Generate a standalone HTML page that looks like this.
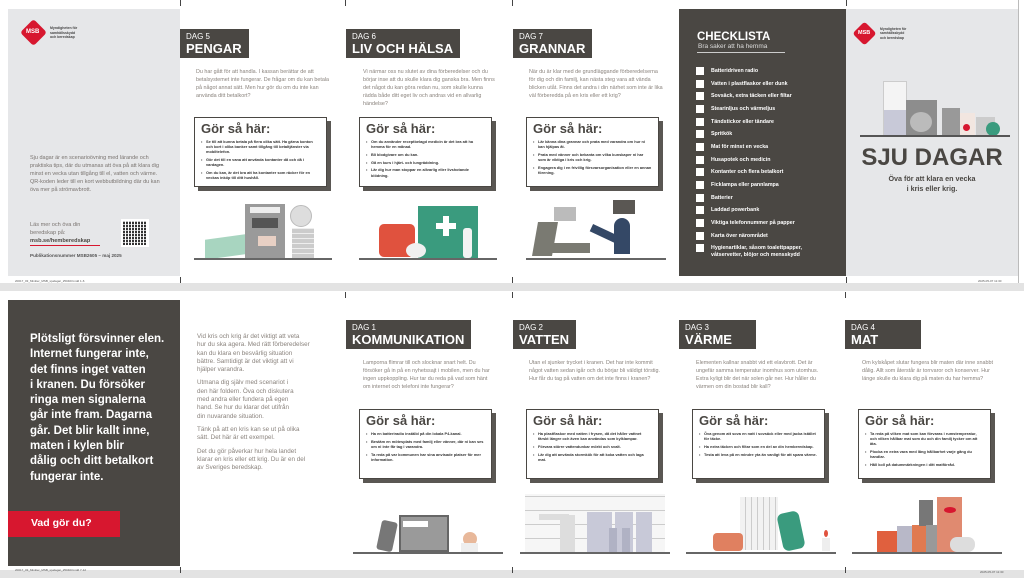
<!DOCTYPE html>
<html><head><meta charset="utf-8">
<style>
*{margin:0;padding:0;box-sizing:border-box}
body{width:1024px;height:578px;background:#fff;position:relative;overflow:hidden;font-family:"Liberation Sans",sans-serif}
.a{position:absolute}
.hd{position:absolute;background:#4a4743;color:#fff;padding:3px 7px 0 6px;height:29px;white-space:nowrap}
.hd .d{font-size:8px;line-height:9px;font-weight:normal}
.hd .t{font-size:13px;line-height:16px;font-weight:bold;white-space:nowrap}
.intro{position:absolute;color:#8a837d;font-size:5.4px;line-height:8px;width:138px}
.box{position:absolute;width:133px;height:70px;border:1.5px solid #4a4743;background:#fff;box-shadow:4px 4px 0 #5a5753;padding:4px 6px}
.box h3{font-size:13px;line-height:14px;color:#4a4743;margin-bottom:3px}
.box li{font-size:3.9px;line-height:5.2px;font-weight:bold;color:#333;list-style:none;margin-bottom:2.5px;padding-left:5px;position:relative}
.box li:before{content:"•";position:absolute;left:0}
.base{position:absolute;height:1.5px;background:#666}
.tick{position:absolute;width:1px;height:6px;background:#444}
.ck{position:absolute;left:696px;width:8px;height:8px;background:#fff}
.ct{position:absolute;left:711px;color:#fff;font-size:5.3px;font-weight:bold;line-height:6.5px;width:125px}
</style></head><body>
<div class="a" style="left:0;top:283px;width:1024px;height:8px;background:#e3e3e3"></div>
<div class="a" style="left:0;top:570px;width:1024px;height:8px;background:#e3e3e3"></div>
<div class="a" style="left:1018px;top:0;width:1px;height:283px;background:#bbb"></div>

<!-- ===== TOP ROW ===== -->
<div class="a" style="left:8px;top:9px;width:172px;height:267px;background:#e6e7e9"></div>
<div class="a" style="left:24px;top:23px;width:19px;height:19px;background:#d7172f;transform:rotate(45deg);border-radius:3px"></div>
<div class="a" style="left:26px;top:29px;color:#fff;font-size:6px;font-weight:bold">MSB</div>
<div class="a" style="left:50px;top:26px;font-size:3.5px;line-height:4.5px;color:#444;font-weight:bold">Myndigheten för<br>samhällsskydd<br>och beredskap</div>
<div class="a" style="left:30px;top:154px;width:135px;font-size:5.5px;line-height:8.1px;color:#7a7470">Sju dagar är en scenarioövning med lärande och praktiska tips, där du utmanas att öva på att klara dig minst en vecka utan tillgång till el, vatten och värme. QR-koden leder till en kort webbutbildning där du kan öva mer på strömavbrott.</div>
<div class="a" style="left:30px;top:221px;width:80px;font-size:5.6px;line-height:8px;color:#7a7470">Läs mer och öva din<br>beredskap på:<br><b style="color:#4a4743">msb.se/hemberedskap</b></div>
<div class="a" style="left:30px;top:245px;width:70px;height:1px;background:#d7172f"></div>
<div class="a" style="left:123px;top:221px;width:24px;height:24px;background:repeating-linear-gradient(90deg,#333 0 2px,#fff 2px 3px),#333;outline:2px solid #fff"></div>
<div class="a" style="left:123px;top:221px;width:24px;height:24px;background:repeating-linear-gradient(0deg,transparent 0 2px,rgba(255,255,255,.7) 2px 3px)"></div>
<div class="a" style="left:30px;top:253px;font-size:4.6px;font-weight:bold;color:#555">Publikationsnummer MSB2605 – maj 2025</div>
<div class="a" style="left:15px;top:279px;font-size:3px;color:#555">20017_03_Miniiter_MSB_sjudagar_250403.indd 1-6</div>

<!-- DAG 5 -->
<div class="hd" style="left:180px;top:29px"><div class="d">DAG 5</div><div class="t">PENGAR</div></div>
<div class="intro" style="left:196px;top:68px">Du har gått för att handla. I kassan berättar de att betalsystemet inte fungerar. De frågar om du kan betala på något annat sätt. Men hur gör du om du inte kan använda ditt betalkort?</div>
<div class="box" style="left:194px;top:117px"><h3>Gör så här:</h3><ul><li>Se till att kunna betala på flera olika sätt. Ha gärna konton och kort i olika banker samt tillgång till betaltjänster via mobiltelefon.</li><li>Gör det till en vana att använda kontanter då och då i vardagen.</li><li>Om du kan, är det bra att ha kontanter som räcker för en veckas inköp till ditt hushåll.</li></ul></div>
<div class="a" style="left:205px;top:237px;width:40px;height:20px;background:#a8d5c0;transform:skewY(-8deg)"></div>
<div class="a" style="left:245px;top:204px;width:40px;height:54px;background:#9a9a9a"></div>
<div class="a" style="left:250px;top:207px;width:30px;height:6px;background:#eee"></div>
<div class="a" style="left:252px;top:218px;width:26px;height:10px;background:#555"></div>
<div class="a" style="left:258px;top:236px;width:18px;height:10px;background:#e8d0c4"></div>
<div class="a" style="left:290px;top:205px;width:22px;height:22px;border-radius:50%;background:#ddd;border:1px solid #bbb"></div>
<div class="a" style="left:292px;top:228px;width:22px;height:30px;background:repeating-linear-gradient(0deg,#ccc 0 4px,#eee 4px 5px)"></div>
<div class="base" style="left:194px;top:258px;width:138px"></div>

<!-- DAG 6 -->
<div class="hd" style="left:346px;top:29px"><div class="d">DAG 6</div><div class="t">LIV OCH HÄLSA</div></div>
<div class="intro" style="left:363px;top:68px;width:132px">Vi närmar oss nu slutet av dina förberedelser och du börjar inse att du skulle klara dig ganska bra. Men finns det något du kan göra redan nu, som skulle kunna rädda både ditt eget liv och andras vid en allvarlig händelse?</div>
<div class="box" style="left:359px;top:117px"><h3>Gör så här:</h3><ul><li>Om du använder receptbelagd medicin är det bra att ha hemma för en månad.</li><li>Bli blodgivare om du kan.</li><li>Gå en kurs i hjärt- och lungräddning.</li><li>Lär dig hur man stoppar en allvarlig eller livshotande blödning.</li></ul></div>
<div class="a" style="left:379px;top:224px;width:36px;height:33px;background:#e0523e;border-radius:5px"></div>
<div class="a" style="left:418px;top:206px;width:60px;height:52px;background:#3a9b7e"></div>
<div class="a" style="left:436px;top:216px;width:20px;height:20px;background:linear-gradient(#fff,#fff) center/6px 20px no-repeat,linear-gradient(#fff,#fff) center/20px 6px no-repeat"></div>
<div class="a" style="left:406px;top:243px;width:20px;height:15px;background:#f0f0f0;border-radius:50%"></div>
<div class="a" style="left:463px;top:228px;width:9px;height:30px;background:#f3f3f3;border-radius:3px"></div>
<div class="base" style="left:359px;top:258px;width:138px"></div>

<!-- DAG 7 -->
<div class="hd" style="left:513px;top:29px"><div class="d">DAG 7</div><div class="t">GRANNAR</div></div>
<div class="intro" style="left:529px;top:68px;width:135px">När du är klar med de grundläggande förberedelserna för dig och din familj, kan nästa steg vara att vända blicken utåt. Finns det andra i din närhet som inte är lika väl förberedda på en kris eller ett krig?</div>
<div class="box" style="left:526px;top:117px"><h3>Gör så här:</h3><ul><li>Lär känna dina grannar och prata med varandra om hur ni kan hjälpas åt.</li><li>Prata med vänner och bekanta om vilka kunskaper ni har som är viktiga i kris och krig.</li><li>Engagera dig i en frivillig försvarsorganisation eller en annan förening.</li></ul></div>
<div class="a" style="left:554px;top:207px;width:22px;height:14px;background:#bbb"></div>
<div class="a" style="left:613px;top:200px;width:22px;height:14px;background:#5a5753"></div>
<div class="a" style="left:535px;top:222px;width:20px;height:34px;background:#7a7a72;transform:skewX(-10deg)"></div>
<div class="a" style="left:550px;top:243px;width:40px;height:10px;background:#7a7a72"></div>
<div class="a" style="left:614px;top:218px;width:16px;height:36px;background:#344866;border-radius:8px 8px 0 0"></div>
<div class="a" style="left:590px;top:230px;width:30px;height:8px;background:#344866;transform:rotate(25deg)"></div>
<div class="base" style="left:526px;top:258px;width:140px"></div>

<!-- Checklist -->
<div class="a" style="left:679px;top:9px;width:167px;height:267px;background:#4a4743"></div>
<div class="a" style="left:697px;top:31px;color:#fff;font-size:11.5px;font-weight:bold">CHECKLISTA</div>
<div class="a" style="left:698px;top:43px;color:#ddd;font-size:6.5px">Bra saker att ha hemma</div>
<div class="a" style="left:697px;top:52px;width:88px;height:1px;background:#ccc"></div>
<div class="ck" style="top:67px"></div><div class="ct" style="top:68px">Batteridriven radio</div>
<div class="ck" style="top:79.5px"></div><div class="ct" style="top:80.5px">Vatten i plastflaskor eller dunk</div>
<div class="ck" style="top:92px"></div><div class="ct" style="top:93px">Sovsäck, extra täcken eller filtar</div>
<div class="ck" style="top:105px"></div><div class="ct" style="top:106px">Stearinljus och värmeljus</div>
<div class="ck" style="top:117.5px"></div><div class="ct" style="top:118.5px">Tändstickor eller tändare</div>
<div class="ck" style="top:130px"></div><div class="ct" style="top:131px">Spritkök</div>
<div class="ck" style="top:142.5px"></div><div class="ct" style="top:143.5px">Mat för minst en vecka</div>
<div class="ck" style="top:155.5px"></div><div class="ct" style="top:156.5px">Husapotek och medicin</div>
<div class="ck" style="top:168px"></div><div class="ct" style="top:169px">Kontanter och flera betalkort</div>
<div class="ck" style="top:181px"></div><div class="ct" style="top:182px">Ficklampa eller pannlampa</div>
<div class="ck" style="top:193.5px"></div><div class="ct" style="top:194.5px">Batterier</div>
<div class="ck" style="top:206px"></div><div class="ct" style="top:207px">Laddad powerbank</div>
<div class="ck" style="top:219px"></div><div class="ct" style="top:220px">Viktiga telefonnummer på papper</div>
<div class="ck" style="top:231.5px"></div><div class="ct" style="top:232.5px">Karta över närområdet</div>
<div class="ck" style="top:244px"></div><div class="ct" style="top:245px">Hygienartiklar, såsom toalettpapper,<br>våtservetter, blöjor och mensskydd</div>

<!-- Right gray cover -->
<div class="a" style="left:846px;top:9px;width:172px;height:267px;background:#e6e7e9"></div>
<div class="a" style="left:856px;top:25px;width:17px;height:17px;background:#d7172f;transform:rotate(45deg);border-radius:3px"></div>
<div class="a" style="left:858px;top:30px;color:#fff;font-size:5.5px;font-weight:bold">MSB</div>
<div class="a" style="left:880px;top:27px;font-size:3.4px;line-height:4.3px;color:#444;font-weight:bold">Myndigheten för<br>samhällsskydd<br>och beredskap</div>
<div class="a" style="left:883px;top:81px;width:24px;height:55px;background:#f4f4f4;border:1px solid #ccc"></div>
<div class="a" style="left:884px;top:110px;width:22px;height:25px;background:#c8c9d8"></div>
<div class="a" style="left:906px;top:100px;width:31px;height:36px;background:#8d8d8d"></div>
<div class="a" style="left:910px;top:112px;width:22px;height:20px;background:#bbb;border-radius:50%"></div>
<div class="a" style="left:942px;top:108px;width:18px;height:28px;background:#999"></div>
<div class="a" style="left:960px;top:113px;width:15px;height:23px;background:#f2e6e0"></div>
<div class="a" style="left:963px;top:124px;width:7px;height:7px;background:#d7172f;border-radius:50%"></div>
<div class="a" style="left:976px;top:117px;width:19px;height:19px;background:#ccc"></div>
<div class="a" style="left:986px;top:122px;width:14px;height:14px;background:#3a9b7e;border-radius:50%"></div>
<div class="a" style="left:860px;top:135px;width:150px;height:1.5px;background:#555"></div>
<div class="a" style="left:846px;top:144px;width:172px;text-align:center;color:#4a4743;font-size:24px;line-height:28px;font-weight:bold;white-space:nowrap">SJU DAGAR</div>
<div class="a" style="left:846px;top:174px;width:172px;text-align:center;color:#4a4743;font-size:7.2px;line-height:10px;font-weight:bold">Öva för att klara en vecka<br>i kris eller krig.</div>
<div class="a" style="left:978px;top:279px;font-size:3px;color:#555">2025-05-07 11:30</div>

<!-- ===== BOTTOM ROW ===== -->
<div class="a" style="left:8px;top:300px;width:172px;height:266px;background:#4a4743"></div>
<div class="a" style="left:30px;top:332px;width:150px;color:#fff;font-size:11.5px;line-height:15.3px;font-weight:bold;white-space:nowrap">Plötsligt försvinner elen.<br>Internet fungerar inte,<br>det finns inget vatten<br>i kranen. Du försöker<br>ringa men signalerna<br>går inte fram. Dagarna<br>går. Det blir kallt inne,<br>maten i kylen blir<br>dålig och ditt betalkort<br>fungerar inte.</div>
<div class="a" style="left:8px;top:511px;width:112px;height:26px;background:#d7172f;color:#fff;font-size:10.5px;font-weight:bold;padding:6px 0 0 23px">Vad gör du?</div>
<div class="a" style="left:15px;top:568px;font-size:3px;color:#555">20017_03_Miniiter_MSB_sjudagar_250403.indd 7-12</div>

<div class="a" style="left:197px;top:333px;width:140px;color:#8a837d;font-size:6.3px;line-height:8.3px;white-space:nowrap">
<p style="margin-bottom:5px">Vid kris och krig är det viktigt att veta<br>hur du ska agera. Med rätt förberedelser<br>kan du klara en besvärlig situation<br>bättre. Samtidigt är det viktigt att vi<br>hjälper varandra.</p>
<p style="margin-bottom:5px">Utmana dig själv med scenariot i<br>den här foldern. Öva och diskutera<br>med andra eller fundera på egen<br>hand. Se hur du klarar det utifrån<br>din nuvarande situation.</p>
<p style="margin-bottom:5px">Tänk på att en kris kan se ut på olika<br>sätt. Det här är ett exempel.</p>
<p>Det du gör påverkar hur hela landet<br>klarar en kris eller ett krig. Du är en del<br>av Sveriges beredskap.</p></div>

<!-- DAG 1 -->
<div class="hd" style="left:346px;top:320px"><div class="d">DAG 1</div><div class="t">KOMMUNIKATION</div></div>
<div class="intro" style="left:363px;top:359px;width:130px">Lamporna flimrar till och slocknar snart helt. Du försöker gå in på en nyhetssajt i mobilen, men du har ingen uppkoppling. Hur tar du reda på vad som hänt om internet och telefoni inte fungerar?</div>
<div class="box" style="left:359px;top:409px"><h3>Gör så här:</h3><ul><li>Ha en batteriradio inställd på din lokala P4-kanal.</li><li>Bestäm en mötesplats med familj eller vänner, där ni kan ses om ni inte får tag i varandra.</li><li>Ta reda på var kommunen har sina anvisade platser för mer information.</li></ul></div>
<div class="a" style="left:379px;top:521px;width:16px;height:30px;background:#777;border-radius:3px;transform:rotate(12deg)"></div>
<div class="a" style="left:399px;top:515px;width:50px;height:37px;background:#9a9a9a;border:2px solid #666"></div>
<div class="a" style="left:403px;top:521px;width:25px;height:6px;background:#fff"></div>
<div class="a" style="left:463px;top:532px;width:14px;height:14px;background:#e8b89a;border-radius:50%"></div>
<div class="a" style="left:461px;top:543px;width:17px;height:9px;background:#eee"></div>
<div class="base" style="left:353px;top:552px;width:150px"></div>

<!-- DAG 2 -->
<div class="hd" style="left:513px;top:320px"><div class="d">DAG 2</div><div class="t">VATTEN</div></div>
<div class="intro" style="left:529px;top:359px;width:135px">Utan el sjunker trycket i kranen. Det har inte kommit något vatten sedan igår och du börjar bli väldigt törstig. Hur får du tag på vatten om det inte finns i kranen?</div>
<div class="box" style="left:526px;top:409px"><h3>Gör så här:</h3><ul><li>Ha plastflaskor med vatten i frysen, då det håller vattnet färskt längre och även kan användas som kylklampar.</li><li>Förvara större vattendunkar mörkt och svalt.</li><li>Lär dig att använda stormkök för att koka vatten och laga mat.</li></ul></div>
<div class="a" style="left:525px;top:494px;width:140px;height:58px;background:repeating-linear-gradient(0deg,#f6f6f6 0 13px,#ccc 13px 14px),#f6f6f6"></div>
<div class="a" style="left:560px;top:515px;width:15px;height:37px;background:#ddd"></div>
<div class="a" style="left:539px;top:514px;width:30px;height:6px;background:#ddd"></div>
<div class="a" style="left:587px;top:512px;width:25px;height:40px;background:#c8c9d8"></div>
<div class="a" style="left:615px;top:512px;width:18px;height:40px;background:#c8c9d8"></div>
<div class="a" style="left:636px;top:512px;width:16px;height:40px;background:#c8c9d8"></div>
<div class="a" style="left:609px;top:528px;width:8px;height:24px;background:#b0b2c4"></div>
<div class="a" style="left:622px;top:528px;width:8px;height:24px;background:#b0b2c4"></div>
<div class="base" style="left:520px;top:552px;width:150px"></div>

<!-- DAG 3 -->
<div class="hd" style="left:679px;top:320px;width:77px"><div class="d">DAG 3</div><div class="t">VÄRME</div></div>
<div class="intro" style="left:696px;top:359px;width:135px">Elementen kallnar snabbt vid ett elavbrott. Det är ungefär samma temperatur inomhus som utomhus. Extra kyligt blir det när solen går ner. Hur håller du värmen om din bostad blir kall?</div>
<div class="box" style="left:692px;top:409px"><h3>Gör så här:</h3><ul><li>Öva genom att sova en natt i sovsäck eller med jacka istället för täcke.</li><li>Ha extra täcken och filtar som en del av din hemberedskap.</li><li>Testa att leva på en mindre yta än vanligt för att spara värme.</li></ul></div>
<div class="a" style="left:740px;top:497px;width:38px;height:53px;background:repeating-linear-gradient(90deg,#f2f2f2 0 5px,#ccc 5px 6px)"></div>
<div class="a" style="left:713px;top:533px;width:30px;height:18px;background:#e08060;border-radius:4px"></div>
<div class="a" style="left:780px;top:512px;width:22px;height:38px;background:#3a9b7e;border-radius:6px;transform:rotate(-12deg)"></div>
<div class="a" style="left:822px;top:538px;width:8px;height:13px;background:#eee"></div>
<div class="a" style="left:824px;top:530px;width:4px;height:7px;background:#e0523e;border-radius:50%"></div>
<div class="base" style="left:686px;top:552px;width:150px"></div>

<!-- DAG 4 -->
<div class="hd" style="left:845px;top:320px;width:76px"><div class="d">DAG 4</div><div class="t">MAT</div></div>
<div class="intro" style="left:862px;top:359px;width:135px">Om kylskåpet slutar fungera blir maten där inne snabbt dålig. Allt som återstår är torrvaror och konserver. Hur länge skulle du klara dig på maten du har hemma?</div>
<div class="box" style="left:858px;top:409px"><h3>Gör så här:</h3><ul><li>Ta reda på vilken mat som kan förvaras i rumstemperatur, och vilken hållbar mat som du och din familj tycker om att äta.</li><li>Plocka en extra vara med lång hållbarhet varje gång du handlar.</li><li>Håll koll på datummärkningen i ditt matförråd.</li></ul></div>
<div class="a" style="left:877px;top:531px;width:20px;height:21px;background:#e0603e"></div>
<div class="a" style="left:897px;top:526px;width:15px;height:26px;background:#b8b8c8"></div>
<div class="a" style="left:912px;top:525px;width:14px;height:27px;background:#e07a50"></div>
<div class="a" style="left:919px;top:500px;width:14px;height:26px;background:#777"></div>
<div class="a" style="left:926px;top:525px;width:14px;height:27px;background:#999"></div>
<div class="a" style="left:937px;top:497px;width:25px;height:55px;background:#e08a70"></div>
<div class="a" style="left:944px;top:507px;width:12px;height:6px;background:#d7172f;border-radius:50%"></div>
<div class="a" style="left:950px;top:537px;width:25px;height:15px;background:#ddd;border-radius:7px"></div>
<div class="base" style="left:852px;top:552px;width:150px"></div>
<div class="a" style="left:980px;top:570px;font-size:3px;color:#555">2025-05-07 11:30</div>

<div class="tick" style="left:180px;top:0"></div><div class="tick" style="left:512px;top:0"></div><div class="tick" style="left:345px;top:0"></div><div class="tick" style="left:846px;top:0"></div>
<div class="tick" style="left:180px;top:277px"></div><div class="tick" style="left:512px;top:277px"></div><div class="tick" style="left:846px;top:277px"></div>
<div class="tick" style="left:345px;top:292px"></div><div class="tick" style="left:512px;top:292px"></div><div class="tick" style="left:845px;top:292px"></div><div class="tick" style="left:180px;top:567px"></div><div class="tick" style="left:512px;top:567px"></div><div class="tick" style="left:845px;top:567px"></div>
</body></html>
